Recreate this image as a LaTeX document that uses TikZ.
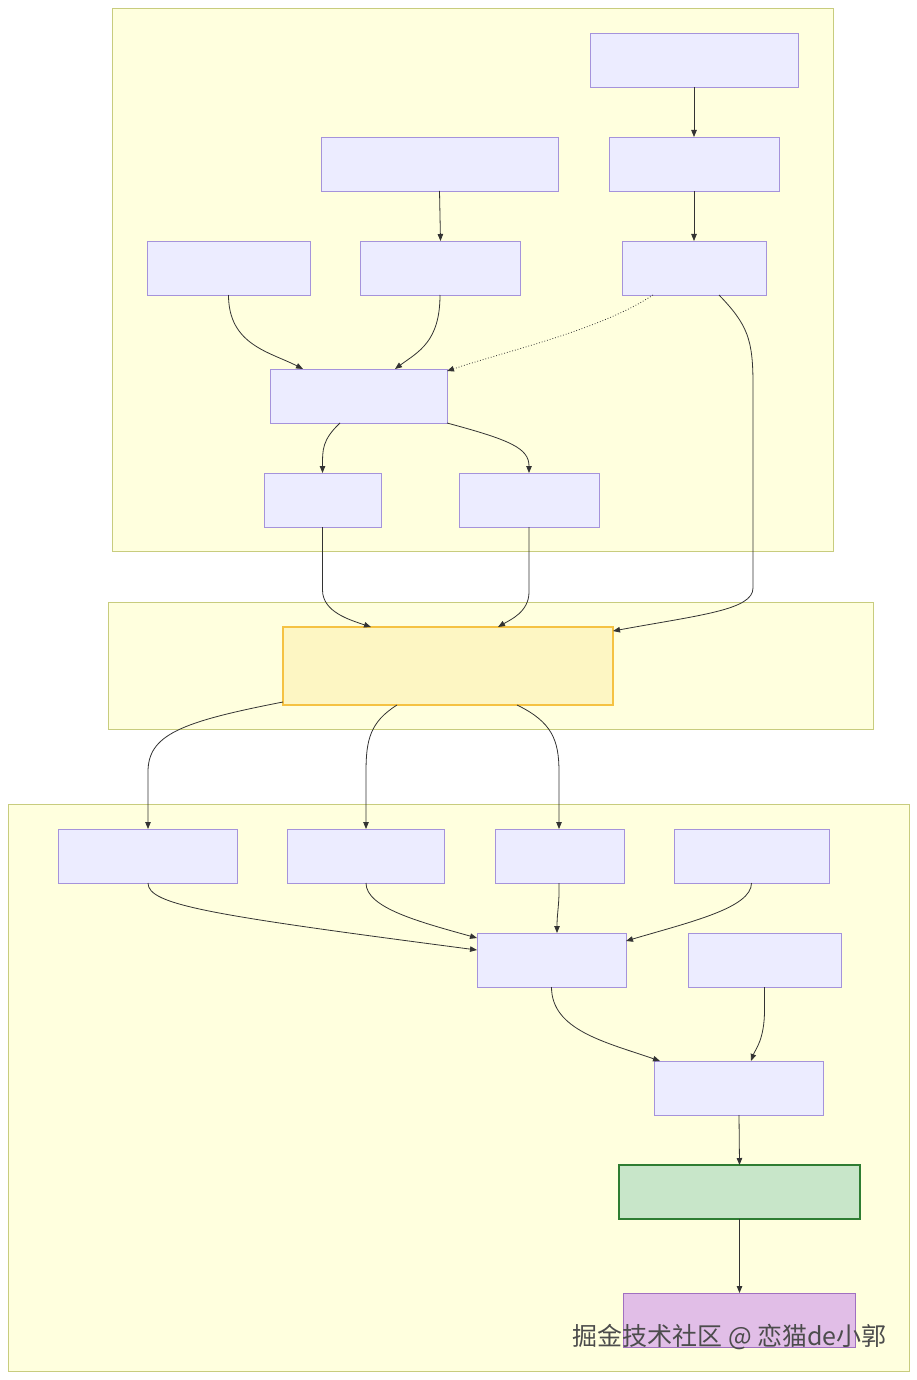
\documentclass[tikz,border=0pt]{standalone}
\usepackage{fontspec}
\newfontfamily\cjk{Noto Sans CJK SC}
\usetikzlibrary{arrows.meta}
\definecolor{clfill}{HTML}{FFFFDE}
\definecolor{cldraw}{HTML}{C8CC7E}
\definecolor{nfill}{HTML}{ECECFF}
\definecolor{ndraw}{HTML}{A593DB}
\definecolor{yfill}{HTML}{FDF6C3}
\definecolor{ydraw}{HTML}{F5C242}
\definecolor{gfill}{HTML}{C8E6C9}
\definecolor{gdraw}{HTML}{2E7D32}
\definecolor{pfill}{HTML}{E1BEE7}
\definecolor{pdraw}{HTML}{A070C0}
\definecolor{edge}{HTML}{333333}
\tikzset{
  cluster/.style={draw=cldraw, fill=clfill, line width=0.9pt, inner sep=0pt, outer sep=0pt},
  box/.style={draw=ndraw, fill=nfill, line width=0.9pt, inner sep=0pt, outer sep=0pt, minimum height=54pt},
  ybox/.style={draw=ydraw, fill=yfill, line width=1.6pt, inner sep=0pt, outer sep=0pt, minimum height=78pt},
  gbox/.style={draw=gdraw, fill=gfill, line width=1.6pt, inner sep=0pt, outer sep=0pt, minimum height=54pt},
  pbox/.style={draw=pdraw, fill=pfill, line width=1pt, inner sep=0pt, outer sep=0pt, minimum height=54pt},
  conn/.style={draw=edge, line width=0.8pt, -{Triangle[length=7pt,width=5.5pt]}},
  dconn/.style={conn, dotted},
}
\begin{document}
\begin{tikzpicture}[x=1pt,y=-1pt]
\useasboundingbox (0,0) rectangle (917,1380);
\fill[white] (0,0) rectangle (917,1380);
% clusters
\node[cluster, minimum width=721pt, minimum height=543pt] (clA) at (472.5,279.5) {};
\node[cluster, minimum width=765pt, minimum height=127pt] (clB) at (490.5,665.5) {};
\node[cluster, minimum width=901pt, minimum height=567pt] (clC) at (458.5,1087.5) {};
% nodes
\node[box, minimum width=208pt] (A1) at (694,60) {};
\node[box, minimum width=170pt] (A2) at (694,164) {};
\node[box, minimum width=144pt] (A3) at (694,268) {};
\node[box, minimum width=237pt] (B1) at (439.5,164) {};
\node[box, minimum width=160pt] (B2) at (440,268) {};
\node[box, minimum width=163pt] (C1) at (228.5,268) {};
\node[box, minimum width=177pt] (D) at (358.5,396) {};
\node[box, minimum width=117pt] (E1) at (322.5,500) {};
\node[box, minimum width=140pt] (E2) at (529,500) {};
\node[ybox, minimum width=330pt] (M) at (448,666) {};
\node[box, minimum width=179pt] (F1) at (147.5,856) {};
\node[box, minimum width=157pt] (F2) at (365.5,856) {};
\node[box, minimum width=129pt] (F3) at (559.5,856) {};
\node[box, minimum width=155pt] (F4) at (751.5,856) {};
\node[box, minimum width=149pt] (G) at (551.5,960) {};
\node[box, minimum width=153pt] (H) at (764.5,960) {};
\node[box, minimum width=169pt] (I) at (738.5,1088) {};
\node[gbox, minimum width=241pt] (J) at (739.5,1192) {};
\node[pbox, minimum width=232pt] (K) at (739,1320) {};
% connectors
\draw[conn] (A1.south) -- (A2.north);
\draw[conn] (A2.south) -- (A3.north);
\draw[conn] (B1.south) -- ([xshift=0.5pt]B2.north);
\draw[conn] (C1.south) .. controls (228.5,345) and (270,352) .. ([xshift=-55.5pt]D.north);
\draw[conn] (B2.south) .. controls (440,342) and (418,352) .. ([xshift=36.5pt]D.north);
\draw[dconn] ([xshift=-41pt]A3.south) .. controls (600,330) and (510,350) .. ([yshift=-2pt]D.north east);
\draw[conn] ([xshift=25pt]A3.south) .. controls (748,325) and (753,340) .. (753,385) -- (753,588) .. controls (753,610) and (700,615) .. ([yshift=-4pt]M.north east);
\draw[conn] ([xshift=-18.5pt]D.south) .. controls (322,440) and (322.5,450) .. (E1.north);
\draw[conn] (D.south east) .. controls (510,440) and (529,448) .. (E2.north);
\draw[conn] (E1.south) -- (322.5,590) .. controls (322.5,612) and (350,620) .. ([xshift=-77pt]M.north);
\draw[conn] (E2.south) -- (529,592) .. controls (529,612) and (510,620) .. ([xshift=50pt]M.north);
\draw[conn] ([yshift=3pt]M.south west) .. controls (180,722) and (148,735) .. (148,772) -- ([xshift=0.5pt]F1.north);
\draw[conn] ([xshift=-51pt]M.south) .. controls (370,722) and (366,740) .. (366,772) -- ([xshift=0.5pt]F2.north);
\draw[conn] ([xshift=69pt]M.south) .. controls (552,722) and (559,740) .. (559,772) -- ([xshift=-0.5pt]F3.north);
\draw[conn] ([xshift=0.5pt]F1.south) .. controls (148,905) and (210,915) .. ([yshift=10pt]G.west);
\draw[conn] ([xshift=0.5pt]F2.south) .. controls (366,908) and (420,922) .. ([yshift=-5pt]G.north west);
\draw[conn] ([xshift=-0.5pt]F3.south) .. controls (559.5,905) and (557,912) .. ([xshift=5.5pt]G.north);
\draw[conn] (F4.south) .. controls (751.5,908) and (690,922) .. ([yshift=-8pt]G.north east);
\draw[conn] (G.south) .. controls (551.5,1030) and (605,1042) .. ([xshift=-78.5pt]I.north);
\draw[conn] (H.south) -- (764.5,1010) .. controls (764.5,1040) and (755,1050) .. ([xshift=12.5pt]I.north);
\draw[conn] ([xshift=0.5pt]I.south) -- (J.north);
\draw[conn] (J.south) -- ([xshift=0.5pt]K.north);
% watermark
\node[anchor=east, inner sep=0pt, text=gray!60!black, font=\cjk\fontsize{25}{27}\selectfont] (wm) at (887,1337) {掘金技术社区 @ 恋猫de小郭};
\end{tikzpicture}
\end{document}
